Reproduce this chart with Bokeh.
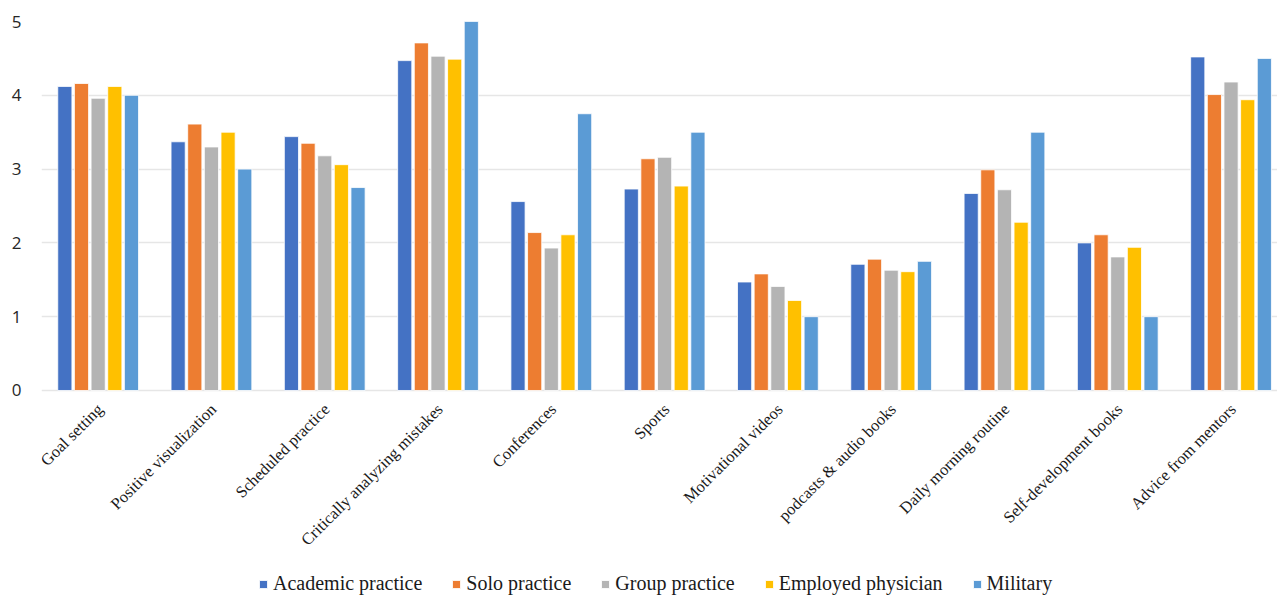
from math import pi

from bokeh.plotting import figure
from bokeh.models import Range1d, FixedTicker, Legend, LegendItem, ColumnDataSource
from bokeh.core.properties import value
from bokeh.embed import file_html
from bokeh.resources import INLINE

# Strategies (x-axis categories)
categories = [
    "Goal setting",
    "Positive visualization",
    "Scheduled practice",
    "Critically analyzing mistakes",
    "Conferences",
    "Sports",
    "Motivational videos",
    "podcasts & audio books",
    "Daily morning routine",
    "Self-development books",
    "Advice from mentors",
]

# Practice settings (series)
series_names = ["Academic practice", "Solo practice", "Group practice",
                "Employed physician", "Military"]

academic_practice = [4.12, 3.37, 3.44, 4.47, 2.56, 2.73, 1.47, 1.71, 2.67, 2.00, 4.52]
solo_practice = [4.16, 3.61, 3.35, 4.71, 2.14, 3.14, 1.58, 1.78, 2.99, 2.11, 4.01]
group_practice = [3.96, 3.30, 3.18, 4.53, 1.93, 3.16, 1.41, 1.63, 2.72, 1.81, 4.18]
employed_physician = [4.12, 3.50, 3.06, 4.49, 2.11, 2.77, 1.22, 1.61, 2.28, 1.94, 3.94]
military = [4.00, 3.00, 2.75, 5.00, 3.75, 3.50, 1.00, 1.75, 3.50, 1.00, 4.50]

y_ticks = [0, 1, 2, 3, 4, 5]

series_values = [academic_practice, solo_practice, group_practice,
                 employed_physician, military]
colors = ["#4472C4", "#ED7D31", "#B4B4B4", "#FFC000", "#5B9BD5"]

# The plotting frame runs down to the page bottom; the value axis covers 0..5
# and the space under zero holds the rotated category names and the legend.
p = figure(
    width=1277, height=595,
    x_range=Range1d(-0.5, 10.41), y_range=Range1d(-2.778, 5),
    output_backend="svg", toolbar_location=None,
    min_border_left=41, min_border_right=0,
    min_border_top=21, min_border_bottom=0,
)
p.outline_line_color = None
p.background_fill_color = "white"
p.border_fill_color = "white"

slot = 0.147
bar_w = 0.125
items = []
for i, (name, vals, col) in enumerate(zip(series_names, series_values, colors)):
    offset = (i - 2) * slot
    src = ColumnDataSource(dict(x=[k + offset for k in range(len(categories))], top=vals))
    r = p.vbar(x="x", top="top", width=bar_w, bottom=0, source=src,
               fill_color=col, line_color="white", line_width=0.8)
    items.append(LegendItem(label=name, renderers=[r]))

# Category names, rotated 45 degrees and hanging below the zero line
label_src = ColumnDataSource(dict(x=list(range(len(categories))),
                                  y=[0] * len(categories), text=categories))
p.text(x="x", y="y", text="text", source=label_src, angle=pi / 4,
       text_align="right", text_baseline="middle",
       x_offset=2, y_offset=16,
       text_font=value("Liberation Serif"), text_font_size=value("16.5px"),
       text_color="#1a1a1a")

p.xaxis.visible = False

p.yaxis.ticker = FixedTicker(ticks=y_ticks)
p.yaxis.major_label_text_font = "Open Sans"
p.yaxis.major_label_text_font_size = "17px"
p.yaxis.major_label_text_color = "#262626"
p.yaxis.major_label_standoff = 14
p.yaxis.axis_line_color = None
p.yaxis.major_tick_line_color = None
p.yaxis.minor_tick_line_color = None

p.xgrid.visible = False
p.ygrid.ticker = FixedTicker(ticks=y_ticks)
p.ygrid.grid_line_color = "#E6E6E6"
p.ygrid.grid_line_width = 1.5

legend = Legend(
    items=items, orientation="horizontal", location=(217, 0),
    label_text_font="Liberation Serif", label_text_font_size="20px",
    label_text_color="#1a1a1a",
    glyph_width=10, glyph_height=10, label_standoff=5, spacing=29,
    padding=0, margin=0, border_line_color=None, background_fill_alpha=0,
)
p.add_layout(legend, "center")

open("out.html", "w").write(file_html(p, INLINE))
